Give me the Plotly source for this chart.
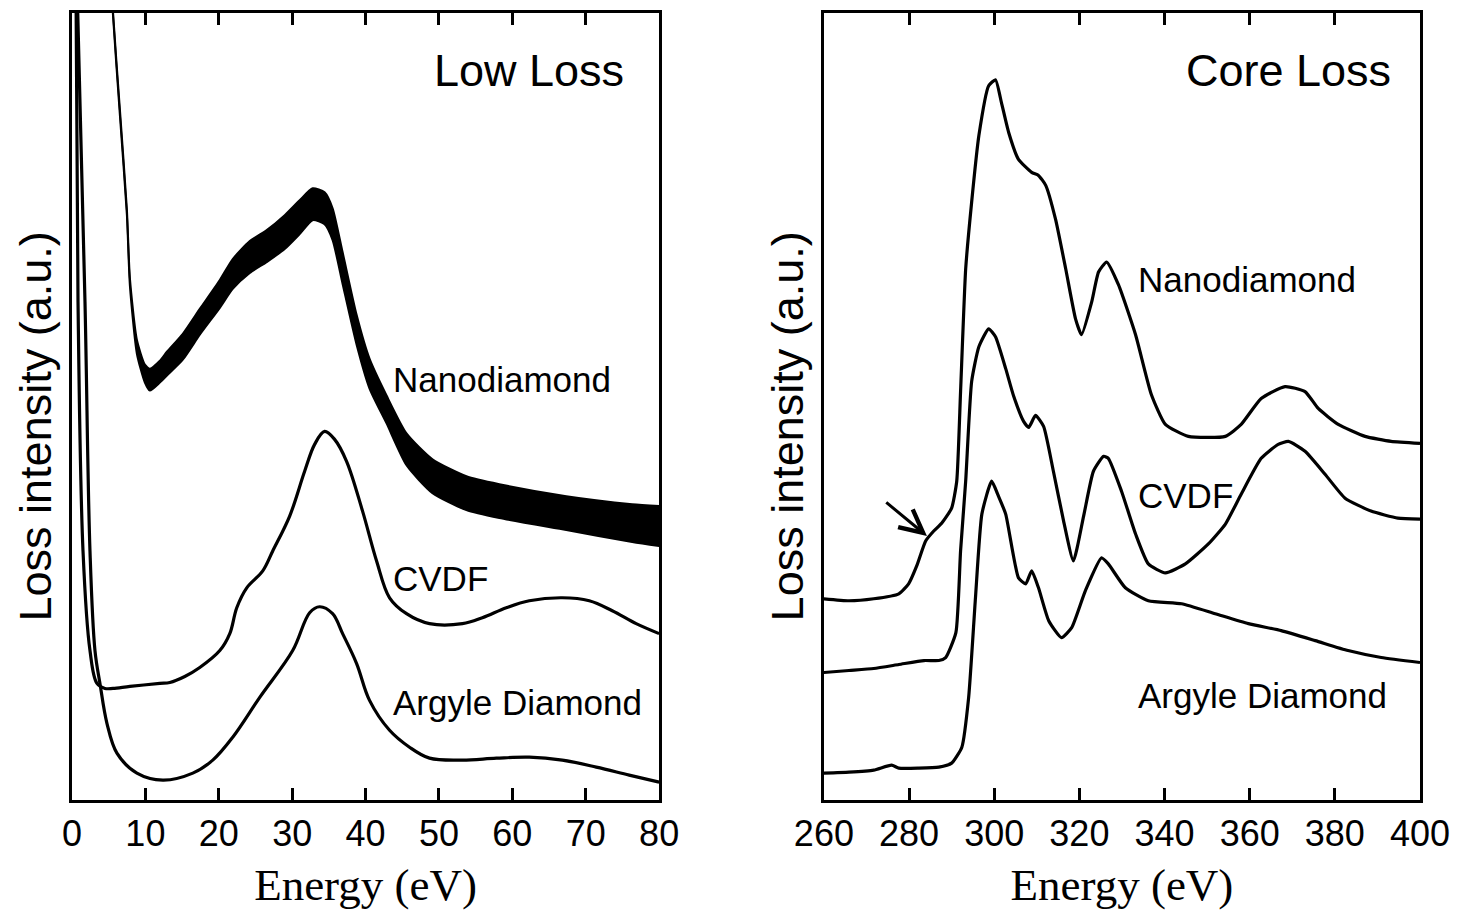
import plotly.graph_objects as go

# ---------------- Low-loss spectra (energy in eV, intensity in a.u.) ----------------
# Nanodiamond: noisy band, lower / upper envelope
ND_LL_E = [5.4, 5.58, 6.53, 7.48, 7.89, 8.84, 9.93, 10.61, 11.97, 12.93, 15.10, 17.41,
           20.14, 21.90, 24.22, 26.53, 28.98, 31.02, 32.79, 34.42, 35.51, 36.87, 38.78,
           40.54, 42.86, 45.58, 49.12, 53.74, 58.23, 67.35, 76.33, 80.0]
ND_LL_LO = [818, 788, 687, 587, 516, 448, 419, 411, 419, 426, 442, 467,
            494, 513, 529, 540, 553, 568, 582, 578, 562, 518, 457,
            413, 378, 336, 308, 291, 283, 271, 259, 255]
ND_LL_HI = [826, 792, 693, 593, 524, 462, 437, 433, 441, 450, 468, 493,
            522, 543, 561, 572, 587, 602, 614, 610, 594, 550, 487,
            443, 406, 368, 342, 325, 317, 305, 297, 295]

CVDF_LL_E = [0.54, 0.82, 1.50, 2.45, 3.40, 4.49, 5.58, 7.89, 11.97, 13.33, 15.37, 17.41,
             20.14, 21.50, 22.45, 23.81, 25.99, 27.35, 29.66, 31.70, 33.06, 34.42, 35.78,
             37.41, 39.59, 41.50, 43.27, 45.58, 48.71, 53.20, 55.92, 59.18, 62.31, 66.80,
             70.48, 73.61, 76.87, 80.0]
CVDF_LL_I = [820, 500, 250, 150, 117, 112, 112, 114, 117, 118, 124, 133,
             150, 167, 193, 213, 230, 250, 285, 330, 357, 370, 362,
             340, 290, 240, 203, 187, 177, 177, 183, 193, 200, 203,
             200, 190, 177, 167]

ARG_LL_E = [0.68, 1.77, 2.45, 3.13, 3.81, 4.76, 6.12, 8.84, 12.38, 16.46, 19.18, 21.90,
            25.58, 30.07, 32.38, 33.74, 35.51, 36.87, 38.78, 40.54, 43.27, 45.99, 48.71,
            53.20, 57.82, 62.31, 66.80, 71.43, 75.92, 80.0]
ARG_LL_I = [820, 500, 250, 150, 117, 77, 47, 27, 20, 27, 40, 63,
            103, 150, 188, 194, 187, 167, 137, 100, 70, 53, 42,
            40, 42, 43, 40, 33, 25, 18]

# ---------------- Core-loss spectra ----------------
ND_CL_E = [260.0, 265.9, 271.7, 277.6, 279.9, 281.8, 283.9, 285.8, 287.7, 290.0, 291.2,
           292.1, 293.3, 294.7, 296.4, 298.7, 300.3, 301.7, 303.4, 305.7, 308.8, 310.4,
           312.1, 314.4, 316.8, 319.1, 320.5, 322.9, 324.5, 326.4, 329.2, 333.2, 336.9,
           340.2, 345.6, 354.3, 358.0, 362.7, 368.3, 373.0, 376.1, 380.8, 387.1, 393.2, 400.0]
ND_CL_I = [202, 200, 202, 207, 217, 235, 260, 270, 278, 293, 320,
           410, 533, 600, 667, 717, 723, 700, 670, 643, 630, 627,
           617, 583, 533, 483, 467, 500, 530, 540, 517, 467, 407,
           377, 365, 365, 377, 403, 415, 410, 393, 377, 365, 360, 358]

CVDF_CL_E = [260.0, 265.9, 271.7, 277.6, 283.5, 287.0, 288.6, 291.0, 292.1, 293.3, 294.7,
             296.4, 298.7, 300.3, 302.7, 304.6, 306.9, 308.1, 309.7, 311.6, 313.9, 316.3,
             318.6, 321.0, 323.3, 325.7, 326.8, 329.9, 333.2, 336.2, 340.2, 344.9, 350.3,
             354.3, 358.0, 362.7, 366.7, 369.1, 373.0, 377.7, 382.4, 388.5, 394.8, 400.0]
CVDF_CL_I = [128, 130, 132, 136, 140, 140, 143, 168, 250, 320, 420,
             455, 473, 465, 433, 405, 380, 374, 386, 375, 330, 280,
             240, 285, 330, 345, 343, 310, 267, 237, 228, 237, 257,
             277, 307, 343, 357, 360, 350, 327, 303, 290, 283, 282]

ARG_CL_E = [260.0, 265.9, 271.7, 275.9, 277.6, 282.3, 287.0, 290.0, 292.4, 294.0, 295.6,
            297.1, 299.4, 301.0, 302.7, 305.7, 307.4, 308.8, 310.4, 312.8, 315.8, 318.2,
            321.4, 325.2, 326.8, 330.8, 336.2, 344.0, 351.9, 359.7, 367.4, 375.4, 383.1,
            390.9, 400.0]
ARG_CL_I = [27, 28, 30, 35, 32, 32, 33, 37, 53, 103, 203,
            287, 320, 305, 287, 223, 217, 230, 213, 180, 163, 173,
            210, 243, 237, 213, 200, 197, 187, 177, 170, 160, 150,
            143, 138]

LL_TICKS = [0, 10, 20, 30, 40, 50, 60, 70, 80]
CL_TICKS = [260, 280, 300, 320, 340, 360, 380, 400]

SANS = "Liberation Sans, Arial, sans-serif"
SERIF = "Liberation Serif, Times New Roman, serif"
LW = 3.2

fig = go.Figure()

# low loss
fig.add_trace(go.Scatter(x=ND_LL_E, y=ND_LL_LO, mode="lines",
                         line=dict(color="black", width=2, shape="spline", smoothing=0.6),
                         xaxis="x", yaxis="y", showlegend=False, hoverinfo="skip"))
fig.add_trace(go.Scatter(x=ND_LL_E, y=ND_LL_HI, mode="lines",
                         line=dict(color="black", width=2, shape="spline", smoothing=0.6),
                         fill="tonexty", fillcolor="black", name="Nanodiamond",
                         xaxis="x", yaxis="y", showlegend=False))
fig.add_trace(go.Scatter(x=CVDF_LL_E, y=CVDF_LL_I, mode="lines", line=dict(color="black", width=LW, shape="spline"),
                         name="CVDF", xaxis="x", yaxis="y", showlegend=False))
fig.add_trace(go.Scatter(x=ARG_LL_E, y=ARG_LL_I, mode="lines", line=dict(color="black", width=LW, shape="spline"),
                         name="Argyle Diamond", xaxis="x", yaxis="y", showlegend=False))

# core loss
for E, I, nm in [(ND_CL_E, ND_CL_I, "Nanodiamond"), (CVDF_CL_E, CVDF_CL_I, "CVDF"),
                 (ARG_CL_E, ARG_CL_I, "Argyle Diamond")]:
    fig.add_trace(go.Scatter(x=E, y=I, mode="lines",
                             line=dict(color="black", width=LW, shape="spline", smoothing=0.5),
                             name=nm, xaxis="x2", yaxis="y2", showlegend=False))

xcommon = dict(ticks="inside", ticklen=12, tickwidth=3, tickcolor="black",
               showline=True, linewidth=3, linecolor="black", mirror="allticks",
               showgrid=False, zeroline=False,
               tickfont=dict(family=SANS, size=36, color="black"),
               title=dict(text="Energy (eV)", font=dict(family=SERIF, size=45, color="black"), standoff=16))
ycommon = dict(range=[0, 790], showticklabels=False, ticks="", showline=True, linewidth=3,
               linecolor="black", mirror=True, showgrid=False, zeroline=False)

fig.update_layout(
    width=1460, height=916,
    margin=dict(l=72, r=38, t=10, b=116),
    paper_bgcolor="white", plot_bgcolor="white",
    xaxis=dict(domain=[0, 0.43556], range=[0, 80], tickvals=LL_TICKS, anchor="y", **xcommon),
    yaxis=dict(domain=[0, 1], anchor="x", **ycommon),
    xaxis2=dict(domain=[0.55778, 1], range=[260, 400], tickvals=CL_TICKS, anchor="y2", **xcommon),
    yaxis2=dict(domain=[0, 1], anchor="x2", **ycommon),
)

# y-axis titles
ytitle_font = dict(family=SANS, size=45, color="black")
for xp in [-0.0274, 0.5304]:
    fig.add_annotation(xref="paper", yref="paper", x=xp, y=0.4747, text="Loss intensity (a.u.)",
                       textangle=-90, font=ytitle_font, showarrow=False,
                       xanchor="center", yanchor="middle")

ann_font = dict(family=SANS, size=35, color="black")
title_font = dict(family=SANS, size=45, color="black")
labels = [
    ("x", "y", 75.5, 732, "Low Loss", title_font, "right"),
    ("x", "y", 43.5, 422, "Nanodiamond", ann_font, "left"),
    ("x", "y", 43.5, 222, "CVDF", ann_font, "left"),
    ("x", "y", 43.5, 98, "Argyle Diamond", ann_font, "left"),
    ("x2", "y2", 393.7, 732, "Core Loss", title_font, "right"),
    ("x2", "y2", 333.4, 522, "Nanodiamond", ann_font, "left"),
    ("x2", "y2", 333.4, 306, "CVDF", ann_font, "left"),
    ("x2", "y2", 333.4, 105, "Argyle Diamond", ann_font, "left"),
]
for xr, yr, x, y, t, f, xa in labels:
    fig.add_annotation(xref=xr, yref=yr, x=x, y=y, text=t, font=f, showarrow=False,
                       xanchor=xa, yanchor="middle")

# arrow pointing to the pre-edge shoulder
fig.add_annotation(xref="x2", yref="y2", x=284.2, y=265, axref="x2", ayref="y2", ax=274.3, ay=300,
                   text="", showarrow=True, arrowhead=5, arrowsize=1.5, arrowwidth=3, arrowcolor="black")

fig.write_html("out.html")
